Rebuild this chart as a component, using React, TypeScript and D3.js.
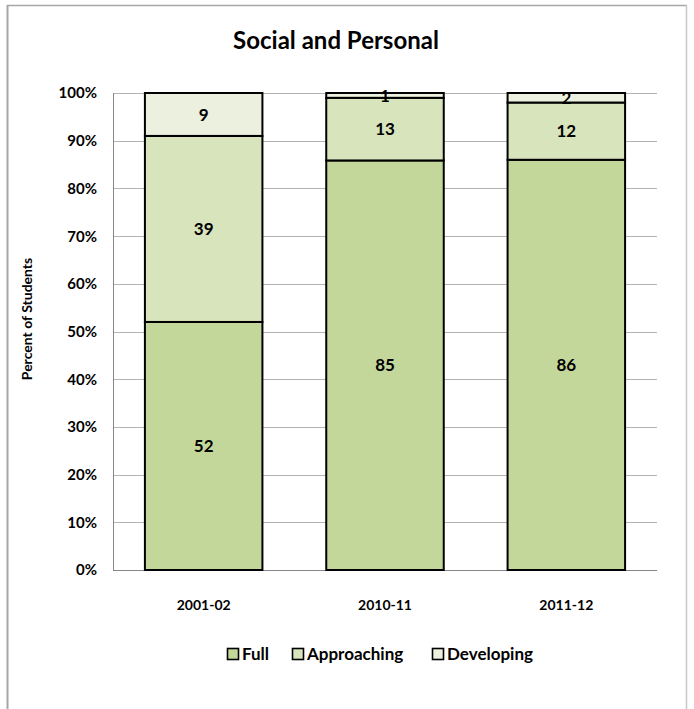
import React from "react";
import * as d3 from "d3";

const categories = ["2001-02", "2010-11", "2011-12"];
const seriesNames = ["Full", "Approaching", "Developing"];
const fullValues = [52, 85, 86];
const approachingValues = [39, 13, 12];
const developingValues = [9, 1, 2];
const seriesColors = ["#c4d79b", "#d8e4bc", "#ebf1de"];
const yTicks = [0, 0.1, 0.2, 0.3, 0.4, 0.5, 0.6, 0.7, 0.8, 0.9, 1.0];

const W = 694;
const H = 709;
const margin = { left: 113, right: 657, top: 93, bottom: 570 };
const FONT = "Lato, 'Open Sans', sans-serif";

export default function App() {
  const seriesValues = [fullValues, approachingValues, developingValues];
  const rows = categories.map((c, i) => {
    const total = seriesValues.reduce((s, arr) => s + arr[i], 0);
    const r: any = { cat: c };
    seriesNames.forEach((n, k) => (r[n] = seriesValues[k][i] / total));
    r.raw = seriesValues.map((arr) => arr[i]);
    return r;
  });
  const stack = d3.stack<any>().keys(seriesNames);
  const stacked = stack(rows);

  const x = d3
    .scaleBand()
    .domain(categories)
    .range([margin.left, margin.right])
    .paddingInner(0.352)
    .paddingOuter(0.176);
  const y = d3.scaleLinear().domain([0, 1]).range([margin.bottom, margin.top]);
  const fmt = d3.format(".0%");

  const legendItems = [
    { name: "Full", sx: 227, tx: 242 },
    { name: "Approaching", sx: 292, tx: 307 },
    { name: "Developing", sx: 432, tx: 447 },
  ];

  return (
    <svg width={W} height={H} style={{ display: "block", position: "absolute", left: 0, top: 0 }}>
      <rect x={0} y={0} width={W} height={H} fill="#fff" />
      {/* outer frame */}
      <line x1={7.5} y1={5} x2={7.5} y2={H} stroke="#a6a6a6" strokeWidth={2} />
      <line x1={7} y1={5.5} x2={687} y2={5.5} stroke="#a6a6a6" strokeWidth={1.5} />
      <line x1={686.5} y1={5} x2={686.5} y2={H} stroke="#c8c8c8" strokeWidth={1.5} />

      {/* title */}
      <text x={336} y={49} textAnchor="middle" fontFamily={FONT} fontWeight="bold" fontSize={24} fill="#000">
        Social and Personal
      </text>

      {/* gridlines */}
      {yTicks.map((t) => (
        <line
          key={"g" + t}
          x1={margin.left}
          x2={margin.right}
          y1={Math.round(y(t)) + 0.5}
          y2={Math.round(y(t)) + 0.5}
          stroke={t === 0 ? "#868686" : "#b3b3b3"}
          strokeWidth={1}
        />
      ))}
      {/* y axis line */}
      <line x1={margin.left + 0.5} x2={margin.left + 0.5} y1={margin.top} y2={margin.bottom} stroke="#868686" />

      {/* y tick labels */}
      {yTicks.map((t) => (
        <text
          key={"t" + t}
          x={97}
          y={y(t)}
          dy="0.36em"
          textAnchor="end"
          fontFamily={FONT}
          fontWeight="bold"
          fontSize={15}
          fill="#000"
        >
          {fmt(t)}
        </text>
      ))}

      {/* y axis title */}
      <text
        transform={`translate(32,319) rotate(-90)`}
        textAnchor="middle"
        fontFamily={FONT}
        fontWeight="bold"
        fontSize={14}
        fill="#000"
      >
        Percent of Students
      </text>

      {/* bars */}
      {stacked.map((layer, k) =>
        layer.map((d, i) => {
          const x0 = x(categories[i])!;
          const y0 = y(d[1]);
          const y1 = y(d[0]);
          return (
            <rect
              key={`${k}-${i}`}
              x={x0}
              y={y0}
              width={x.bandwidth()}
              height={y1 - y0}
              fill={seriesColors[k]}
              stroke="#000"
              strokeWidth={2}
            />
          );
        })
      )}

      {/* data labels */}
      {stacked.map((layer, k) =>
        layer.map((d, i) => {
          const cx = x(categories[i])! + x.bandwidth() / 2;
          const cy = (y(d[0]) + y(d[1])) / 2;
          return (
            <text
              key={`l${k}-${i}`}
              x={cx}
              y={cy}
              dy="0.36em"
              textAnchor="middle"
              fontFamily={FONT}
              fontWeight="bold"
              fontSize={17}
              fill="#000"
            >
              {rows[i].raw[k]}
            </text>
          );
        })
      )}

      {/* category labels */}
      {categories.map((c) => (
        <text
          key={c}
          x={x(c)! + x.bandwidth() / 2}
          y={605}
          dy="0.36em"
          textAnchor="middle"
          fontFamily={FONT}
          fontWeight="bold"
          fontSize={14}
          fill="#000"
        >
          {c}
        </text>
      ))}

      {/* legend */}
      {legendItems.map((it, k) => (
        <g key={it.name}>
          <rect x={it.sx + 0.5} y={648.5} width={11} height={11} fill={seriesColors[k]} stroke="#000" strokeWidth={1.6} />
          <text
            x={it.tx}
            y={660}
            fontFamily={FONT}
            fontWeight="bold"
            fontSize={17}
            fill="#000"
          >
            {it.name}
          </text>
        </g>
      ))}
    </svg>
  );
}
